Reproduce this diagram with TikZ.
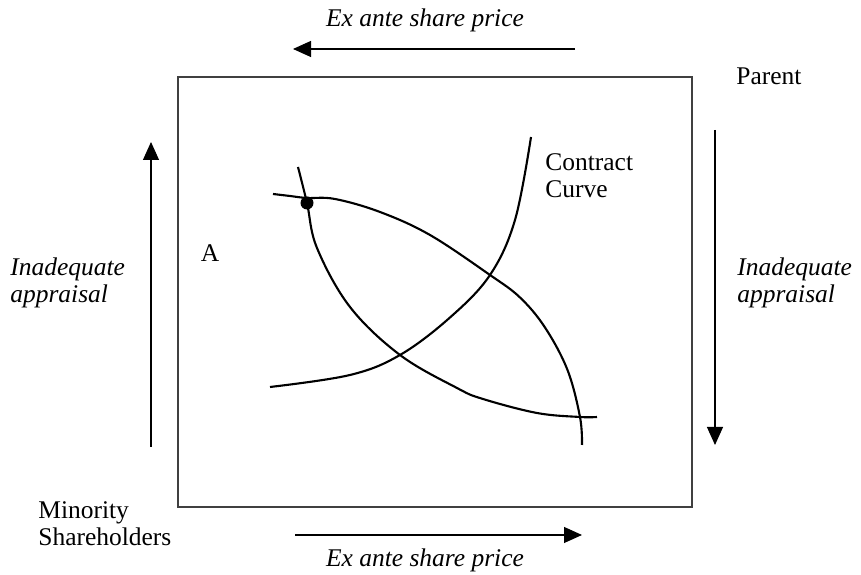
\documentclass[tikz,border=0pt]{standalone}
\usepackage{fontspec}
\setmainfont{Liberation Serif}
\usetikzlibrary{arrows.meta,positioning}
\tikzset{txt/.style={font=\fontsize{14.5}{15.5}\selectfont,inner sep=0pt,align=left},itxt/.style={txt,font=\fontsize{14.5}{15.5}\selectfont\itshape},price/.style={-{Triangle[length=3.6mm,width=3.2mm]},line width=.6pt},indiff/.style={line width=1.2pt,line join=round},frame/.style={draw=black!75,line width=.8pt}}

\begin{document}
\begin{tikzpicture}[x=1cm,y=1cm]
\useasboundingbox (0,0) rectangle (17.22,11.5);
\draw[frame] (3.56,1.36) rectangle (13.84,9.96);
% share price arrows
\coordinate (ttail) at (11.5,10.52); \coordinate (thead) at (5.86,10.52);
\coordinate (btail) at (5.9,0.8); \coordinate (bhead) at (11.64,0.8);
\draw[price] (ttail)--(thead); \draw[price] (btail)--(bhead);
\node[itxt] (ptop) at (8.5,11.1) {Ex ante share price};
\node[itxt] (pbot) at (8.5,0.3) {Ex ante share price};
% appraisal arrows
\coordinate (ltail) at (3.02,2.56); \coordinate (lhead) at (3.02,8.66);
\coordinate (rtail) at (14.3,8.9); \coordinate (rhead) at (14.3,2.6);
\draw[price] (ltail)--(lhead); \draw[price] (rtail)--(rhead);
\node[itxt,anchor=west] (aleft) at (0.2,5.84) {Inadequate\\appraisal};
\node[itxt,anchor=west] (aright) at (14.74,5.84) {Inadequate\\appraisal};
\node[txt,anchor=west] (parent) at (14.72,9.98) {Parent};
\node[txt,anchor=west] (minor) at (0.76,1.02) {Minority\\Shareholders};
\node[txt] (a) at (4.2,6.44) {A};
\node[txt,anchor=west] (cc) at (10.9,7.98) {Contract\\Curve};
% curves
\draw[indiff] plot[smooth,tension=.6] coordinates {(5.40,3.76) (7.00,4.00) (8.00,4.40) (9.00,5.15) (9.80,6.00) (10.30,7.10) (10.62,8.76)};
\draw[indiff] plot[smooth,tension=.6] coordinates {(5.96,8.16) (6.14,7.44) (6.34,6.54) (7.00,5.36) (8.00,4.40) (9.14,3.74) (9.66,3.52) (10.74,3.24) (11.60,3.16) (11.94,3.16)};
\draw[indiff] plot[smooth,tension=.6] coordinates {(5.46,7.62) (5.80,7.58) (6.14,7.54) (6.70,7.52) (7.60,7.26) (8.60,6.80) (9.80,6.00) (10.40,5.55) (10.90,4.95) (11.35,4.10) (11.60,3.16) (11.64,2.60)};
\fill (6.14,7.44) circle (.13);
\end{tikzpicture}
\end{document}
